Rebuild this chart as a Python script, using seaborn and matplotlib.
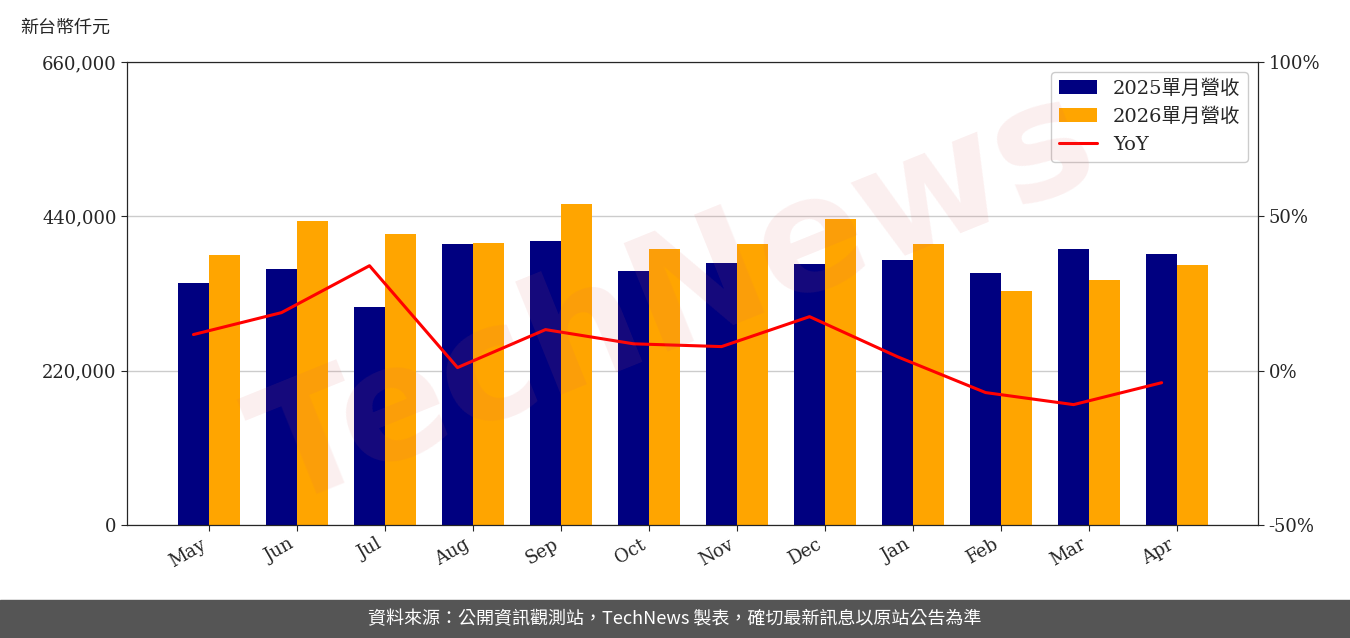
import matplotlib
matplotlib.use("Agg")
import matplotlib.pyplot as plt
import seaborn as sns
import pandas as pd
import numpy as np
from matplotlib.ticker import FuncFormatter

months = ["May","Jun","Jul","Aug","Sep","Oct","Nov","Dec","Jan","Feb","Mar","Apr"]
rev2025 = [345000,365000,311000,400000,405000,362000,373000,372000,378000,359000,393000,386000]
rev2026 = [385000,433000,415000,402000,458000,393000,400000,436000,400000,334000,349000,371000]
yoy = [11.7,18.8,34.0,1.0,13.3,8.7,7.8,17.5,4.5,-7.1,-11.0,-3.9]

sns.set_style("white")
plt.rcParams['font.family'] = ['DejaVu Serif', 'Noto Sans CJK TC']

fig = plt.figure(figsize=(13.5, 6.38), dpi=100)
ax = fig.add_axes([127/1350, 1-525/638, (1258-127)/1350, 463/638])
df = pd.DataFrame({"month": months*2, "rev": rev2025+rev2026,
                   "series": ["2025單月營收"]*12 + ["2026單月營收"]*12})
sns.barplot(data=df, x="month", y="rev", hue="series", palette=["#000080", "#FFA500"],
            width=0.7, ax=ax, saturation=1, edgecolor='none', linewidth=0)
ax.set_ylim(0, 660000)
ax.set_yticks([0, 220000, 440000, 660000])
ax.yaxis.set_major_formatter(FuncFormatter(lambda v, p: f"{int(v):,}"))
ax.grid(axis='y', color='#cccccc', lw=1)
ax.set_axisbelow(True)
ax.set_xlabel(""); ax.set_ylabel("")
ax.tick_params(axis='both', labelsize=13, left=True, bottom=True, length=4)
for t in ax.get_xticklabels():
    t.set_rotation(30); t.set_ha('right')
for s in ax.spines.values():
    s.set_color('black')

ax2 = ax.twinx()
sns.lineplot(x=np.arange(12) - 0.175, y=yoy, color='red', lw=2.2, ax=ax2, label="YoY", legend=False)
ax2.set_ylim(-50, 100)
ax2.set_yticks([-50, 0, 50, 100])
ax2.yaxis.set_major_formatter(FuncFormatter(lambda v, p: f"{int(v)}%"))
ax2.tick_params(axis='y', labelsize=13, right=True, length=4)
ax.set_xlim(-0.93, 11.92)

h1, l1 = ax.get_legend_handles_labels()
h2, l2 = ax2.get_legend_handles_labels()
ax.get_legend().remove()
ax2.legend(h1+h2, l1+l2, loc='upper right', fontsize=14, framealpha=1, edgecolor='#cccccc')

fig.text(20/1350, 1-28/638, "新台幣仟元", fontsize=13, va='center', family=['Noto Sans CJK TC'])
fig.text(0.5, 0.53, "TechNews", fontsize=115, color='#e06060', alpha=0.1, rotation=22,
         ha='center', va='center', family=['DejaVu Sans'], weight='bold')
fig.patches.append(plt.Rectangle((0, 0), 1, 38/638, transform=fig.transFigure, color='#555555'))
fig.text(0.5, 19/638, "資料來源：公開資訊觀測站，TechNews 製表，確切最新訊息以原站公告為準",
         color='white', fontsize=13, ha='center', va='center', family=['Noto Sans CJK TC'])
fig.savefig("out.png", dpi=100)
